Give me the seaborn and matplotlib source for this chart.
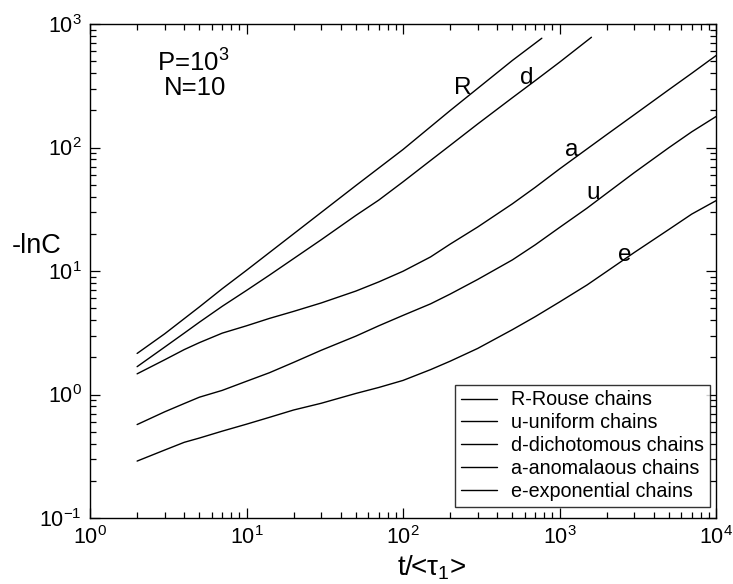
import matplotlib
matplotlib.use("Agg")
import matplotlib.pyplot as plt
import seaborn as sns
import pandas as pd

# ---- data ----
t_R = [2, 3, 5, 7, 10, 20, 50, 100, 200, 500, 771]
val_R = [2.15, 3.10, 5.12, 7.19, 10.13, 20.0, 49.2, 96.3, 199, 507, 767]

t_d = [2, 3, 4, 5, 7, 10, 14, 20, 30, 50, 70, 100, 150, 200, 300, 500, 700, 1000, 1600]
val_d = [1.68, 2.42, 3.14, 3.85, 5.18, 6.96, 9.25, 12.6, 17.9, 28.2, 37.5, 52.7,
         78.5, 104, 155, 253, 348, 490, 781]

t_a = [2, 3, 4, 5, 7, 10, 14, 20, 30, 50, 70, 100, 150, 200, 300, 500, 700,
       1000, 1500, 2000, 3000, 5000, 7000, 10000]
val_a = [1.47, 1.91, 2.31, 2.63, 3.14, 3.60, 4.13, 4.71, 5.51, 6.88, 8.16, 9.95,
         13.0, 16.5, 22.7, 35.0, 47.6, 67.0, 97.4, 127, 184, 294, 399, 555]

t_u = [2, 3, 4, 5, 7, 10, 14, 20, 30, 50, 70, 100, 150, 200, 300, 500, 700,
       1000, 1500, 2000, 3000, 5000, 7000, 10000]
val_u = [0.571, 0.724, 0.845, 0.951, 1.08, 1.28, 1.50, 1.82, 2.28, 2.97, 3.60,
         4.37, 5.42, 6.50, 8.54, 12.3, 16.3, 22.5, 32.3, 42.5, 62.5, 99.7, 134, 178]

t_e = [2, 3, 4, 5, 7, 10, 14, 20, 30, 50, 70, 100, 150, 200, 300, 500, 700,
       1000, 1500, 2000, 3000, 5000, 7000, 10000]
val_e = [0.289, 0.355, 0.410, 0.444, 0.505, 0.575, 0.653, 0.749, 0.849, 1.02, 1.14,
         1.30, 1.59, 1.86, 2.36, 3.35, 4.27, 5.61, 7.71, 9.90, 14.1, 21.7, 28.9, 37.1]

legend_labels = ["R-Rouse chains", "u-uniform chains", "d-dichotomous chains",
                 "a-anomalaous chains", "e-exponential chains"]
curve_tags = ["R", "u", "d", "a", "e"]
tag_pos_t = [242, 1637, 620, 1202, 2623]
tag_pos_v = [303, 42.8, 365, 95.5, 13.5]

series = {"R": (t_R, val_R), "u": (t_u, val_u), "d": (t_d, val_d),
          "a": (t_a, val_a), "e": (t_e, val_e)}

frames = []
for tag, lab in zip(curve_tags, legend_labels):
    tt, vv = series[tag]
    frames.append(pd.DataFrame({"t": tt, "v": vv, "chain": lab}))
df = pd.concat(frames, ignore_index=True)

# ---- style ----
sns.set_theme(style="ticks")
plt.rcParams["font.family"] = ["Liberation Sans", "DejaVu Sans"]
plt.rcParams["mathtext.fontset"] = "custom"
plt.rcParams["mathtext.rm"] = "Liberation Sans"
plt.rcParams["mathtext.it"] = "Liberation Sans"
plt.rcParams["mathtext.default"] = "regular"
plt.rcParams["text.color"] = "black"
plt.rcParams["axes.labelcolor"] = "black"
plt.rcParams["xtick.labelcolor"] = "black"
plt.rcParams["ytick.labelcolor"] = "black"

fig = plt.figure(figsize=(7.33, 5.84), dpi=100)
ax = fig.add_axes([90 / 733, 66 / 584, 626 / 733, 494 / 584])

sns.lineplot(data=df, x="t", y="v", hue="chain", hue_order=legend_labels,
             palette=["black"] * 5, estimator=None, sort=False,
             linewidth=1.0, ax=ax, legend=True)

ax.set_xscale("log")
ax.set_yscale("log")
ax.set_xlim(1, 1e4)
ax.set_ylim(0.1, 1e3)

ax.tick_params(which="both", direction="in", top=True, right=True,
               color="black", labelcolor="black", labelsize=15.5, width=0.9)
ax.tick_params(which="major", length=7, pad=6)
ax.tick_params(which="minor", length=4)
for s in ax.spines.values():
    s.set_color("black")
    s.set_linewidth(1.0)

ax.set_xlabel(r"t/<$\tau_1$>", fontsize=20, color="black")
ax.xaxis.set_label_coords(0.545, -0.072)
ax.set_ylabel("-lnC", fontsize=19.5, rotation=0, ha="center", va="center",
              color="black")
ax.yaxis.set_label_coords(-0.086, 0.551)

for tag, x, y in zip(curve_tags, tag_pos_t, tag_pos_v):
    ax.text(x, y, tag, fontsize=17.5, ha="center", va="center", color="black")

ax.text(0.165, 0.921, r"P=10$^{3}$", transform=ax.transAxes, fontsize=18.5,
        ha="center", va="center", color="black")
ax.text(0.168, 0.870, "N=10", transform=ax.transAxes, fontsize=18.5,
        ha="center", va="center", color="black")

leg = ax.legend(loc="lower right", bbox_to_anchor=(0.990, 0.022),
                borderaxespad=0, fontsize=14.2, frameon=True, fancybox=False,
                handlelength=1.85, handletextpad=0.7, labelspacing=0.2,
                borderpad=0.3, title=None)
leg.get_frame().set_edgecolor("black")
leg.get_frame().set_linewidth(1.0)
for h in leg.get_lines():
    h.set_linewidth(1.0)
for txt in leg.get_texts():
    txt.set_color("black")

ax.grid(False)
fig.savefig("out.png", dpi=100)
